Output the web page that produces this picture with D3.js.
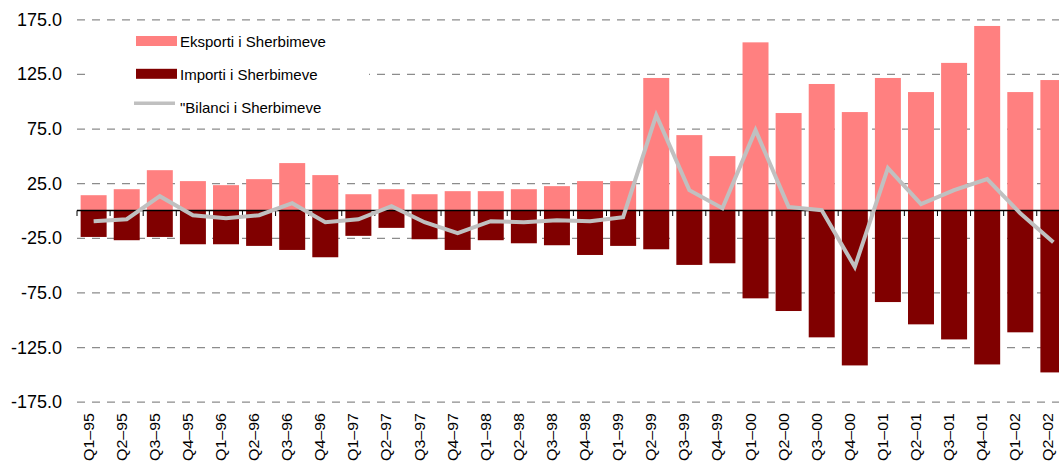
<!DOCTYPE html>
<html>
<head>
<meta charset="utf-8">
<script src="https://cdn.jsdelivr.net/npm/d3@7"></script>
<style>
  body { margin: 0; background: #fff; }
  svg { display: block; font-family: "Liberation Sans", Arial, sans-serif; }
</style>
</head>
<body>
<div id="chart"></div>
<script>
// quarters on the x axis
const quarters = [
  'Q1–95', 'Q2–95', 'Q3–95', 'Q4–95',
  'Q1–96', 'Q2–96', 'Q3–96', 'Q4–96',
  'Q1–97', 'Q2–97', 'Q3–97', 'Q4–97',
  'Q1–98', 'Q2–98', 'Q3–98', 'Q4–98',
  'Q1–99', 'Q2–99', 'Q3–99', 'Q4–99',
  'Q1–00', 'Q2–00', 'Q3–00', 'Q4–00',
  'Q1–01', 'Q2–01', 'Q3–01', 'Q4–01',
  'Q1–02', 'Q2–02'
];

const eksporti = [14.0, 19.5, 36.9, 26.9, 23.2, 28.7, 43.4, 32.4, 14.9, 19.5,
  14.9, 17.7, 17.7, 19.5, 22.3, 26.9, 26.9, 121.3, 69.0, 49.8,
  153.9, 89.2, 115.8, 90.1, 121.3, 108.4, 135.1, 168.9, 108.4, 119.4];

const importi = [-24.2, -27.2, -24.2, -30.9, -30.9, -32.4, -36.1, -42.8, -23.2, -15.9,
  -26.3, -36.1, -27.2, -30.0, -31.8, -40.7, -32.4, -35.5, -49.8, -48.3,
  -80.4, -92.0, -116.1, -141.8, -83.8, -104.2, -118.0, -140.9, -111.5, -148.2];

const bilanci = [-9.8, -8.0, 13.1, -4.3, -7.1, -4.3, 6.7, -10.7, -8.0, 3.9,
  -10.7, -20.8, -9.8, -10.7, -8.9, -9.8, -6.1, 87.3, 18.6, 2.1,
  73.5, 3.3, 0.3, -51.7, 38.8, 5.8, 18.6, 28.7, -2.5, -29.1];

const yTicks = [175, 125, 75, 25, -25, -75, -125, -175];

const legendItems = [
  { label: 'Eksporti i Sherbimeve', type: 'bar', color: '#FF8080' },
  { label: 'Importi i Sherbimeve', type: 'bar', color: '#800000' },
  { label: '"Bilanci i Sherbimeve', type: 'line', color: '#C0C0C0' }
];

const width = 1059;
const height = 462;

const svg = d3.select('#chart')
  .append('svg')
  .attr('width', width)
  .attr('height', height);

const x = d3.scaleBand()
  .domain(quarters)
  .range([77, 77 + 30 * 33.1])
  .paddingInner(0.215)
  .paddingOuter(0.11);

const y = d3.scaleLinear()
  .domain([-175, 175])
  .range([401.7, 19.3]);

// dashed gridlines
const grid = d3.axisLeft(y)
  .tickValues(yTicks)
  .tickSize(-(width - 77))
  .tickFormat('');

svg.append('g')
  .classed('gridline', true)
  .attr('transform', 'translate(77,0)')
  .call(grid)
  .call(g => g.select('.domain').remove())
  .call(g => g.selectAll('line')
    .attr('stroke', '#8c8c8c')
    .attr('stroke-width', 1.2)
    .attr('stroke-dasharray', '8,7'));

// y tick labels (plain hyphen for the minus sign)
svg.append('g')
  .selectAll('text')
  .data(yTicks)
  .enter()
  .append('text')
  .attr('x', 62)
  .attr('y', d => y(d) + 6.5)
  .attr('text-anchor', 'end')
  .style('font-size', '18px')
  .attr('fill', '#000')
  .text(d => d.toFixed(1));

// bars
svg.append('g')
  .selectAll('rect')
  .data(eksporti)
  .enter()
  .append('rect')
  .attr('x', (d, i) => x(quarters[i]))
  .attr('y', d => y(d))
  .attr('width', x.bandwidth())
  .attr('height', d => y(0) - y(d))
  .attr('fill', '#FF8080');

svg.append('g')
  .selectAll('rect')
  .data(importi)
  .enter()
  .append('rect')
  .attr('x', (d, i) => x(quarters[i]))
  .attr('y', y(0))
  .attr('width', x.bandwidth())
  .attr('height', d => y(d) - y(0))
  .attr('fill', '#800000');

// zero axis with ticks at the category boundaries
const step = x.step();
const x0 = x.range()[0];
svg.append('line')
  .attr('x1', x0)
  .attr('x2', width)
  .attr('y1', y(0))
  .attr('y2', y(0))
  .attr('stroke', '#000')
  .attr('stroke-width', 1.3);

svg.append('g')
  .selectAll('line')
  .data(quarters)
  .enter()
  .append('line')
  .attr('x1', (d, i) => x0 + i * step)
  .attr('x2', (d, i) => x0 + i * step)
  .attr('y1', y(0))
  .attr('y2', y(0) + 5.5)
  .attr('stroke', '#000')
  .attr('stroke-width', 1);

// balance line
const line = d3.line()
  .x((d, i) => x(quarters[i]) + x.bandwidth() / 2)
  .y(d => y(d));

svg.append('path')
  .datum(bilanci)
  .attr('d', line)
  .attr('fill', 'none')
  .attr('stroke', '#C0C0C0')
  .attr('stroke-width', 4)
  .attr('stroke-linejoin', 'miter');

// x labels, rotated
svg.append('g')
  .selectAll('text')
  .data(quarters)
  .enter()
  .append('text')
  .attr('transform', d => `translate(${x(d) + x.bandwidth() / 2},413) rotate(-90)`)
  .attr('text-anchor', 'end')
  .attr('textLength', 48)
  .attr('lengthAdjust', 'spacingAndGlyphs')
  .style('font-size', '15px')
  .attr('fill', '#000')
  .text(d => d);

// legend
const legend = svg.append('g');
legend.append('rect')
  .attr('x', 92)
  .attr('y', 27)
  .attr('width', 277)
  .attr('height', 92)
  .attr('fill', '#fff');

const rows = legend.selectAll('g.item')
  .data(legendItems)
  .enter()
  .append('g')
  .classed('item', true)
  .attr('transform', (d, i) => `translate(0,${i * 32.8})`);

rows.filter(d => d.type === 'bar')
  .append('rect')
  .attr('x', 136)
  .attr('y', 36)
  .attr('width', 41)
  .attr('height', 10)
  .attr('fill', d => d.color);

rows.filter(d => d.type === 'line')
  .append('line')
  .attr('x1', 134)
  .attr('x2', 175)
  .attr('y1', 37.7)
  .attr('y2', 37.7)
  .attr('stroke', d => d.color)
  .attr('stroke-width', 3.5);

rows.append('text')
  .attr('x', 180)
  .attr('y', 47)
  .style('font-size', '15px')
  .attr('fill', '#000')
  .text(d => d.label);
</script>
</body>
</html>
